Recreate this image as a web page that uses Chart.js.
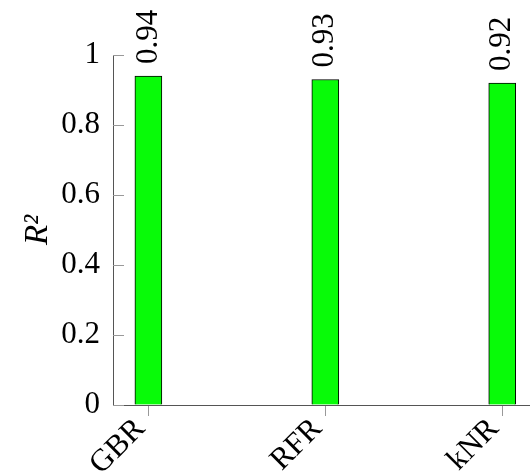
<!DOCTYPE html>
<html lang="en">
<head>
<meta charset="UTF-8">
<title>R2 scores</title>
<script src="https://cdn.jsdelivr.net/npm/chart.js@4.4.0/dist/chart.umd.min.js"></script>
<style>
  body { margin: 0; background: #fff; }
</style>
</head>
<body>
<canvas id="chart" width="530" height="472"></canvas>
<script>
const models = ['GBR', 'RFR', 'kNR'];
const r2Scores = [0.94, 0.93, 0.92];
const yTicks = [0, 0.2, 0.4, 0.6, 0.8, 1];
const yTickLabels = ['0', '0.2', '0.4', '0.6', '0.8', '1'];

const serif = "'Times New Roman', 'Liberation Serif', serif";
const fontSize = 31;

// value written upright above each bar
const barLabels = {
  id: 'barLabels',
  afterDatasetsDraw(chart) {
    const ctx = chart.ctx;
    const meta = chart.getDatasetMeta(0);
    ctx.save();
    ctx.font = fontSize + 'px ' + serif;
    ctx.fillStyle = '#000';
    ctx.textAlign = 'left';
    ctx.textBaseline = 'middle';
    meta.data.forEach((bar, i) => {
      ctx.save();
      ctx.translate(bar.x, bar.y - 12);
      ctx.rotate(-Math.PI / 2);
      ctx.fillText(r2Scores[i].toFixed(2), 0, 0);
      ctx.restore();
    });
    ctx.restore();
  }
};

// y ticks point into the plot, like pgfplots
const innerTicks = {
  id: 'innerTicks',
  beforeDatasetsDraw(chart) {
    const ctx = chart.ctx;
    const y = chart.scales.y;
    const left = chart.chartArea.left;
    ctx.save();
    ctx.strokeStyle = '#999';
    ctx.lineWidth = 1;
    yTicks.forEach(v => {
      const py = Math.round(y.getPixelForValue(v)) + 0.5;
      ctx.beginPath();
      ctx.moveTo(left, py);
      ctx.lineTo(left + 11, py);
      ctx.stroke();
    });
    ctx.restore();
  }
};

new Chart(document.getElementById('chart'), {
  type: 'bar',
  data: {
    datasets: [{
      data: models.map((m, i) => ({ x: i, y: r2Scores[i] })),
      backgroundColor: '#08fb08',
      borderColor: '#000',
      borderWidth: 1,
      barThickness: 27
    }]
  },
  options: {
    responsive: false,
    animation: false,
    layout: { padding: { top: 55, right: 0, bottom: 0, left: 0 } },
    plugins: { legend: { display: false }, tooltip: { enabled: false } },
    scales: {
      x: {
        type: 'linear',
        min: -0.2,
        max: 2.157,
        offset: false,
        afterBuildTicks: s => { s.ticks = models.map((m, i) => ({ value: i })); },
        afterFit: s => { s.height = 67; },
        grid: { offset: false, drawOnChartArea: false, drawTicks: true, tickLength: 11, tickColor: '#999' },
        border: { color: '#555', width: 1 },
        ticks: {
          autoSkip: false,
          minRotation: 45,
          maxRotation: 45,
          padding: -5,
          labelOffset: -8,
          color: '#000',
          font: { family: serif, size: fontSize },
          callback: v => models[v]
        }
      },
      y: {
        min: 0,
        max: 1,
        afterBuildTicks: s => { s.ticks = yTicks.map(v => ({ value: v })); },
        afterFit: s => { s.width = 113; },
        grid: { drawOnChartArea: false, drawTicks: false },
        border: { color: '#555', width: 1 },
        ticks: {
          padding: 13,
          color: '#000',
          font: { family: serif, size: fontSize },
          callback: (v, i) => yTickLabels[i]
        },
        title: {
          display: true,
          text: 'R²',
          color: '#000',
          font: { family: serif, size: fontSize + 2, style: 'italic' },
          padding: { top: 19 }
        }
      }
    }
  },
  plugins: [innerTicks, barLabels]
});
</script>
</body>
</html>
